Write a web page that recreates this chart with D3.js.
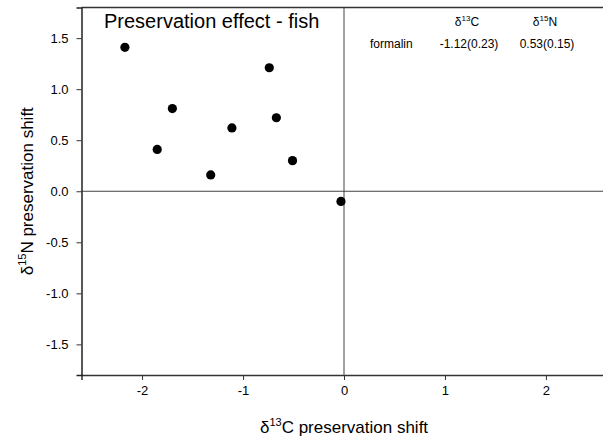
<!DOCTYPE html>
<html><head><meta charset="utf-8">
<script src="https://cdn.jsdelivr.net/npm/d3@7"></script>
<style>body{margin:0;background:#fff}svg{display:block;font-family:"Liberation Sans",Arial,sans-serif}</style>
</head><body>
<script>
const xValues = [-2.17, -1.85, -1.70, -1.32, -1.11, -0.74, -0.67, -0.51, -0.03];
const yValues = [1.41, 0.41, 0.81, 0.16, 0.62, 1.21, 0.72, 0.30, -0.10];
const xTicks = [-2, -1, 0, 1, 2];
const yTicks = [1.5, 1.0, 0.5, 0.0, -0.5, -1.0, -1.5];

const W = 603, H = 439;
const FONT = "Liberation Sans, Arial, sans-serif";
const svg = d3.select("body").append("svg").attr("width", W).attr("height", H);
const x = d3.scaleLinear().domain([-2.6, 2.6]).range([81.5, 606.5]);
const y = d3.scaleLinear().domain([-1.8, 1.8]).range([375, 7.5]);
const hy = v => (v < 0 ? "-" : "") + Math.abs(v);

// zero lines
svg.append("line").attr("x1", x(0)).attr("x2", x(0)).attr("y1", y(1.8)).attr("y2", y(-1.8))
  .attr("stroke", "#444").attr("stroke-width", 1);
svg.append("line").attr("x1", x(-2.6)).attr("x2", W).attr("y1", y(0)).attr("y2", y(0))
  .attr("stroke", "#444").attr("stroke-width", 1);

// frame top
svg.append("line").attr("x1", x(-2.6)).attr("x2", W).attr("y1", y(1.8)).attr("y2", y(1.8))
  .attr("stroke", "#333").attr("stroke-width", 1.5);

const xAxis = svg.append("g").attr("transform", `translate(0,${y(-1.8)})`)
  .call(d3.axisBottom(x).tickValues(xTicks).tickSize(5).tickPadding(6)
    .tickFormat(d => hy(d)));
xAxis.select(".domain").attr("stroke", "#333").attr("stroke-width", 1.5);
xAxis.selectAll("text").attr("font-size", 13).attr("fill", "#000").attr("font-family", FONT);

const yAxis = svg.append("g").attr("transform", `translate(${x(-2.6)},0)`)
  .call(d3.axisLeft(y).tickValues(yTicks).tickSize(5).tickPadding(8)
    .tickFormat(d => (d < 0 ? "-" : "") + Math.abs(d).toFixed(1)));
yAxis.select(".domain").attr("stroke", "#222").attr("stroke-width", 1.5);
yAxis.selectAll("text").attr("font-size", 13).attr("fill", "#000").attr("font-family", FONT);
svg.selectAll(".tick line").attr("stroke", "#333");

// points
svg.append("g").selectAll("circle").data(xValues.map((v, i) => [v, yValues[i]])).join("circle")
  .attr("cx", d => x(d[0])).attr("cy", d => y(d[1])).attr("r", 4.6).attr("fill", "#000");

// title
svg.append("text").attr("x", 104).attr("y", 28).attr("font-size", 20).text("Preservation effect - fish");

// annotation
const a = svg.append("g").attr("font-size", 12);
const t1 = a.append("text").attr("x", 467).attr("y", 26).attr("text-anchor", "middle");
t1.append("tspan").text("δ");
t1.append("tspan").attr("font-size", 8).attr("dy", -5).text("13");
t1.append("tspan").attr("dy", 5).text("C");
const t2 = a.append("text").attr("x", 545).attr("y", 26).attr("text-anchor", "middle");
t2.append("tspan").text("δ");
t2.append("tspan").attr("font-size", 8).attr("dy", -5).text("15");
t2.append("tspan").attr("dy", 5).text("N");
a.append("text").attr("x", 370).attr("y", 48).text("formalin");
a.append("text").attr("x", 469).attr("y", 48).attr("text-anchor", "middle").text("-1.12(0.23)");
a.append("text").attr("x", 547).attr("y", 48).attr("text-anchor", "middle").text("0.53(0.15)");

// axis titles
const xl = svg.append("text").attr("x", x(0)).attr("y", 433).attr("text-anchor", "middle").attr("font-size", 17);
xl.append("tspan").text("δ");
xl.append("tspan").attr("font-size", 11).attr("dy", -7).text("13");
xl.append("tspan").attr("dy", 7).text("C preservation shift");

const yl = svg.append("text").attr("transform", `translate(33,${y(0)}) rotate(-90)`).attr("text-anchor", "middle").attr("font-size", 17);
yl.append("tspan").text("δ");
yl.append("tspan").attr("font-size", 11).attr("dy", -7).text("15");
yl.append("tspan").attr("dy", 7).text("N preservation shift");
</script>
</body></html>
